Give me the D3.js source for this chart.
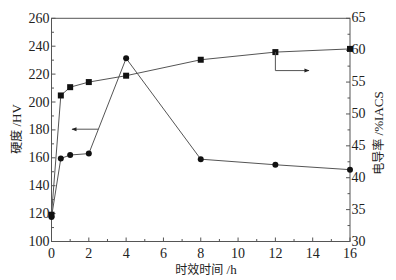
<!DOCTYPE html>
<html><head><meta charset="utf-8">
<script src="https://cdn.jsdelivr.net/npm/d3@7"></script>
<style>body{margin:0;background:#fff}svg{display:block}</style>
</head><body>
<svg id="c" width="396" height="280"></svg>
<script>
const timeH = [0, 0.5, 1, 2, 4, 8, 12, 16];
const hardness = [117.5, 159.5, 162, 163, 231.3, 159, 155, 151.5];
const conductivity = [34.2, 52.9, 54.2, 55.0, 56.0, 58.5, 59.7, 60.2];
const xTicks = [0, 2, 4, 6, 8, 10, 12, 14, 16];
const leftTicks = [100, 120, 140, 160, 180, 200, 220, 240, 260];
const rightTicks = [30, 35, 40, 45, 50, 55, 60, 65];

const svg = d3.select('#c');
const L = 51.5, R = 350, T = 18.3, B = 241.5;
const x = d3.scaleLinear().domain([0, 16]).range([L, R]);
const yL = d3.scaleLinear().domain([100, 260]).range([B, T]);
const yR = d3.scaleLinear().domain([30, 65]).range([B, T]);
const axisCol = '#555';
const font = '"Liberation Serif", "Times New Roman", serif';
const cjk = '"Noto Sans CJK SC", sans-serif';
const fs = 14;

svg.append('rect').attr('x', L).attr('y', T).attr('width', R - L).attr('height', B - T)
  .attr('fill', 'none').attr('stroke', axisCol).attr('stroke-width', 1);

const g = svg.append('g');
d3.range(0, 17, 1).forEach(v => {
  g.append('line').attr('x1', x(v)).attr('x2', x(v)).attr('y1', B).attr('y2', B - (v % 2 === 0 ? 4 : 2.5)).attr('stroke', axisCol);
});
xTicks.forEach(v => {
  g.append('text').attr('x', x(v)).attr('y', B + 16.5).attr('text-anchor', 'middle')
    .attr('font-family', font).attr('font-size', fs).attr('fill', '#222').text(v);
});
d3.range(100, 261, 10).forEach(v => {
  g.append('line').attr('x1', L).attr('x2', L + (v % 20 === 0 ? 4 : 2.5)).attr('y1', yL(v)).attr('y2', yL(v)).attr('stroke', axisCol);
});
leftTicks.forEach(v => {
  g.append('text').attr('x', L - 2).attr('y', yL(v) + 4.5).attr('text-anchor', 'end')
    .attr('font-family', font).attr('font-size', fs).attr('fill', '#222').text(v);
});
d3.range(30, 65.1, 2.5).forEach(v => {
  g.append('line').attr('x1', R).attr('x2', R - (v % 5 === 0 ? 4 : 2.5)).attr('y1', yR(v)).attr('y2', yR(v)).attr('stroke', axisCol);
});
rightTicks.forEach(v => {
  g.append('text').attr('x', R + 1.5).attr('y', yR(v) + 4).attr('text-anchor', 'start')
    .attr('font-family', font).attr('font-size', fs).attr('fill', '#222').text(v);
});

svg.append('text').attr('transform', `translate(21,129) rotate(-90)`)
  .attr('text-anchor', 'middle').attr('fill', '#222').attr('font-size', 12)
  .html(`<tspan font-family='${cjk}'>硬度</tspan><tspan font-family='${font}' font-size='13'> /HV</tspan>`);
svg.append('text').attr('transform', `translate(383,133) rotate(-90)`)
  .attr('text-anchor', 'middle').attr('fill', '#222').attr('font-size', 12)
  .html(`<tspan font-family='${cjk}'>电导率</tspan><tspan font-family='${font}' font-size='13'> /%IACS</tspan>`);
svg.append('text').attr('x', 206).attr('y', 274)
  .attr('text-anchor', 'middle').attr('fill', '#222').attr('font-size', 12)
  .html(`<tspan font-family='${cjk}'>时效时间</tspan><tspan font-family='${font}' font-size='13'> /h</tspan>`);

const lineH = d3.line().x((d, i) => x(timeH[i])).y(d => yL(d));
const lineC = d3.line().x((d, i) => x(timeH[i])).y(d => yR(d));
svg.append('path').attr('d', lineH(hardness)).attr('fill', 'none').attr('stroke', '#555').attr('stroke-width', 1);
svg.append('path').attr('d', lineC(conductivity)).attr('fill', 'none').attr('stroke', '#555').attr('stroke-width', 1);

svg.selectAll('circle.h').data(hardness).enter().append('circle')
  .attr('cx', (d, i) => x(timeH[i])).attr('cy', d => yL(d)).attr('r', 3).attr('fill', '#111');
svg.selectAll('rect.c').data(conductivity).enter().append('rect')
  .attr('x', (d, i) => x(timeH[i]) - 3).attr('y', d => yR(d) - 3).attr('width', 6).attr('height', 6).attr('fill', '#111');

svg.append('defs').append('marker').attr('id', 'ah').attr('viewBox', '0 0 10 10')
  .attr('refX', 9).attr('refY', 5).attr('markerWidth', 7).attr('markerHeight', 5)
  .attr('orient', 'auto').attr('markerUnits', 'userSpaceOnUse')
  .append('path').attr('d', 'M0,1 L10,5 L0,9 Z').attr('fill', '#222');
const yA = yL(180.5);
const xA0 = x(2 + (180.5 - hardness[3]) / (hardness[4] - hardness[3]) * 2);
svg.append('line').attr('x1', xA0).attr('y1', yA).attr('x2', x(1.1)).attr('y2', yA)
  .attr('stroke', '#555').attr('marker-end', 'url(#ah)');
const xs = x(12), ys = yR(conductivity[6]), yb = yR(56.8);
svg.append('path').attr('d', `M${xs},${ys} L${xs},${yb} L${x(13.8)},${yb}`)
  .attr('fill', 'none').attr('stroke', '#555').attr('marker-end', 'url(#ah)');
</script>
</body></html>
